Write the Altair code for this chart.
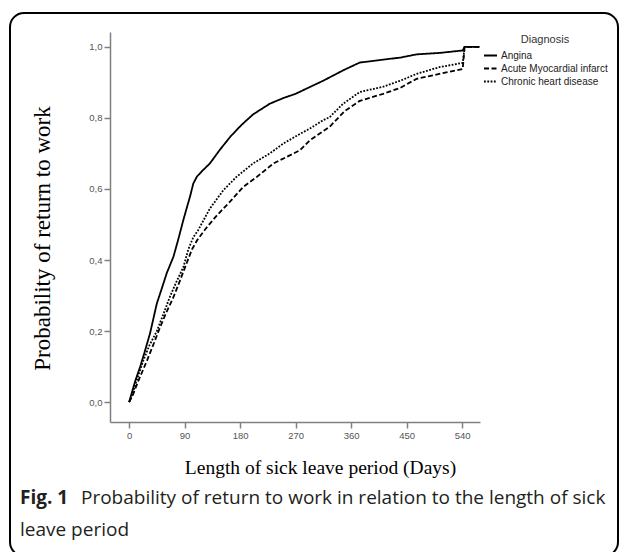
import altair as alt
import pandas as pd

# ---- data (days, cumulative probability) ----
days_angina = [0, 5, 10, 18, 25, 34, 40, 45, 53, 61, 72, 80, 88, 94, 99, 104, 110, 118, 131, 147, 164,
               182, 201, 228, 250, 270, 293, 315, 347, 374, 411, 440, 466, 503, 541, 544, 568]
prob_angina = [0, 0.03, 0.06, 0.10, 0.14, 0.194, 0.24, 0.278, 0.32, 0.363, 0.41, 0.46, 0.513, 0.55, 0.58,
               0.615, 0.635, 0.65, 0.672, 0.71, 0.747, 0.78, 0.81, 0.84, 0.856, 0.868, 0.887, 0.905, 0.934,
               0.956, 0.964, 0.97, 0.979, 0.983, 0.99, 1.0, 1.0]

days_ami = [0, 6, 15, 29, 40, 50, 61, 72, 82, 93, 102, 110, 125, 142, 164, 185, 207, 234, 255, 277, 293,
            325, 350, 374, 412, 440, 466, 503, 541, 544, 568]
prob_ami = [0, 0.02, 0.06, 0.117, 0.165, 0.21, 0.255, 0.296, 0.34, 0.39, 0.43, 0.455, 0.49, 0.525, 0.565,
            0.606, 0.634, 0.672, 0.69, 0.709, 0.737, 0.775, 0.82, 0.848, 0.868, 0.885, 0.91, 0.924, 0.938,
            1.0, 1.0]

days_chronic = [0, 4, 12, 23, 33, 45, 55, 66, 77, 88, 96, 104, 112, 120, 131, 153, 174, 201, 228, 250, 277,
                293, 315, 325, 347, 374, 412, 440, 466, 503, 541, 544, 568]
prob_chronic = [0, 0.015, 0.06, 0.117, 0.16, 0.2, 0.245, 0.296, 0.34, 0.38, 0.43, 0.464, 0.484, 0.51, 0.545,
                0.597, 0.634, 0.672, 0.70, 0.728, 0.755, 0.77, 0.794, 0.802, 0.84, 0.873, 0.888, 0.905, 0.924,
                0.943, 0.955, 1.0, 1.0]

series_names = ["Angina", "Acute Myocardial infarct", "Chronic heart disease"]
x_ticks = [0, 90, 180, 270, 360, 450, 540]
y_ticks = [0.0, 0.2, 0.4, 0.6, 0.8, 1.0]

x_title = "Length of sick leave period (Days)"
y_title = "Probability of return to work"
legend_title = "Diagnosis"
caption_bold = "Fig. 1"
caption_line1 = "Probability of return to work in relation to the length of sick"
caption_line2 = "leave period"

rows = []
for name, ds, ps in [(series_names[0], days_angina, prob_angina),
                     (series_names[1], days_ami, prob_ami),
                     (series_names[2], days_chronic, prob_chronic)]:
    for i, (d, p) in enumerate(zip(ds, ps)):
        rows.append({"Diagnosis": name, "days": d, "prob": p, "i": i})
df = pd.DataFrame(rows)

W, H = 370, 390

lines = alt.Chart(df).mark_line(color="black", strokeWidth=1.8).encode(
    x=alt.X("days:Q", scale=alt.Scale(domain=[-31, 569], nice=False, zero=False),
            axis=alt.Axis(values=x_ticks, title=x_title, grid=False, titleX=210, titleY=45,
                          titleAlign="center", titleBaseline="middle", titleFontSize=19.5)),
    y=alt.Y("prob:Q", scale=alt.Scale(domain=[-0.056, 1.042], nice=False, zero=False),
            axis=alt.Axis(values=y_ticks, title=y_title, grid=False,
                          labelExpr="replace(format(datum.value, '.1f'), '.', ',')",
                          titleX=-68, titleY=206, titleAngle=270, titleFontSize=23,
                          titleAlign="center", titleBaseline="middle")),
    strokeDash=alt.StrokeDash("Diagnosis:N",
                              scale=alt.Scale(domain=series_names, range=[[1, 0], [5, 2.5], [1.8, 1.5]]),
                              legend=alt.Legend(title=legend_title, orient="none", legendX=373, legendY=2,
                                                symbolType="stroke", symbolSize=169, symbolStrokeWidth=2,
                                                symbolStrokeColor="black", titleAnchor="middle",
                                                titleFont="Liberation Sans", titleFontSize=11,
                                                titleFontWeight="normal", titleColor="#333",
                                                titlePadding=3, labelFont="Liberation Sans",
                                                labelFontSize=10, labelColor="#222", labelOffset=3,
                                                rowPadding=0)),
    order="i:Q",
)

one = pd.DataFrame({"t": [""]})

frame = alt.Chart(one).mark_rect(fillOpacity=0, stroke="black", strokeWidth=2, cornerRadius=14).encode(
    x=alt.value(-100), x2=alt.value(508), y=alt.value(-19), y2=alt.value(524)
)

cap_bold = alt.Chart(pd.DataFrame({"t": [caption_bold]})).mark_text(
    align="left", baseline="middle", font="Open Sans", fontSize=19, fontWeight="bold", color="#231f20"
).encode(x=alt.value(-90), y=alt.value(466), text="t:N")

cap_1 = alt.Chart(pd.DataFrame({"t": [caption_line1]})).mark_text(
    align="left", baseline="middle", font="Open Sans", fontSize=19, color="#231f20"
).encode(x=alt.value(-29), y=alt.value(466), text="t:N")

cap_2 = alt.Chart(pd.DataFrame({"t": [caption_line2]})).mark_text(
    align="left", baseline="middle", font="Open Sans", fontSize=19, color="#231f20"
).encode(x=alt.value(-90), y=alt.value(498), text="t:N")

chart = alt.layer(frame, lines, cap_bold, cap_1, cap_2).properties(
    width=W, height=H,
    autosize=alt.AutoSizeParams(type="none"),
    padding={"left": 102, "top": 24, "right": 139, "bottom": 130},
    background="white",
).configure_view(stroke=None).configure_axis(
    domainColor="#808080", domainWidth=1.5, tickColor="#808080", tickWidth=1.5, tickSize=6,
    labelFont="Liberation Sans", labelFontSize=9.5, labelColor="#555", labelPadding=2,
    titleFont="Liberation Serif", titleFontSize=21, titleFontWeight="normal", titleColor="black",
)

chart.save("out.html", embed_options={"renderer": "svg", "actions": False})
